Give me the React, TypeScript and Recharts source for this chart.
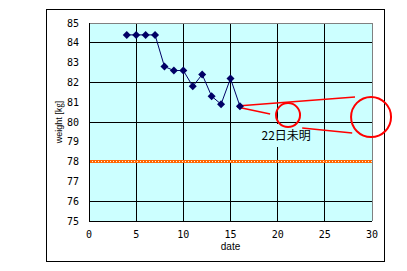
import { LineChart, Line, XAxis, YAxis, CartesianGrid, ReferenceLine, ReferenceDot, ReferenceArea } from "recharts";

const days = [4, 5, 6, 7, 8, 9, 10, 11, 12, 13, 14, 15, 16];
const weights = [84.4, 84.4, 84.4, 84.4, 82.8, 82.6, 82.6, 81.8, 82.4, 81.3, 80.9, 82.2, 80.8];
const xTicks = [0, 5, 10, 15, 20, 25, 30];
const yTicks = [75, 76, 77, 78, 79, 80, 81, 82, 83, 84, 85];
const targetWeight = 78;

// hand-drawn callout (data coords)
const calloutLines = [
  [{ x: 15.7, y: 80.81 }, { x: 28.2, y: 81.26 }],
  [{ x: 15.7, y: 80.76 }, { x: 19.2, y: 80.4 }],
  [{ x: 22.6, y: 79.7 }, { x: 27.9, y: 79.44 }],
];
const calloutCircles = [
  { x: 21.1, y: 80.35, r: 12 },
  { x: 29.9, y: 80.25, r: 20 },
];
const noteBox = { x1: 17.1, x2: 24.7, y1: 78.74, y2: 79.9, text: "22日未明" };

const data = days.map((d, i) => ({ date: d, weight: weights[i] }));

const Diamond = (props: any) => {
  const { cx, cy } = props;
  if (cx == null || cy == null) return null;
  return <polygon points={`${cx},${cy - 4} ${cx + 4},${cy} ${cx},${cy + 4} ${cx - 4},${cy}`} fill="#000066" />;
};

const tickFont = { fontFamily: "DejaVu Sans Mono", fontSize: 10, fill: "#000" };

export default function App() {
  return (
    <div style={{ position: "absolute", left: 0, top: 0, width: 407, height: 271, background: "#fff" }}>
      <div style={{ position: "absolute", left: 46, top: 9, width: 337, height: 251, border: "1px solid #000" }} />
      <LineChart
        width={407}
        height={271}
        data={data}
        margin={{ top: 23, right: 35, bottom: 20, left: 46 }}
        style={{ position: "absolute", left: 0, top: 0 }}
      >
        <CartesianGrid
          fill="#ccffff"
          stroke="#000"
          strokeOpacity={1}
          shapeRendering="crispEdges"
          horizontalValues={yTicks.filter((t) => t !== 85)}
          verticalValues={xTicks.filter((t) => t !== 30)}
        />
        <XAxis
          dataKey="date"
          type="number"
          domain={[0, 30]}
          ticks={xTicks}
          tickLine={false}
          tickSize={0}
          tickMargin={10}
          height={30}
          axisLine={{ stroke: "#000", shapeRendering: "crispEdges" }}
          tick={tickFont}
          label={{ value: "date", position: "insideBottom", offset: 1, style: { fontFamily: "Liberation Sans", fontSize: 10, fill: "#000" } }}
        />
        <YAxis
          type="number"
          domain={[75, 85]}
          ticks={yTicks}
          tickLine={false}
          tickSize={0}
          tickMargin={10}
          width={43}
          axisLine={{ stroke: "#000", shapeRendering: "crispEdges" }}
          tick={tickFont}
          label={{ value: "weight [㎏]", angle: -90, position: "insideLeft", offset: 13, style: { fontFamily: "Liberation Sans, Noto Sans CJK JP", fontSize: 9, fill: "#000", textAnchor: "middle" } }}
        />
        <ReferenceLine y={85} stroke="#808080" shapeRendering="crispEdges" />
        <ReferenceLine x={30} stroke="#808080" shapeRendering="crispEdges" />
        <ReferenceLine y={targetWeight} stroke="#ff6600" strokeWidth={3} />
        <ReferenceLine y={targetWeight} stroke="#ffffff" strokeWidth={1} strokeDasharray="1 2" />
        <ReferenceArea
          x1={noteBox.x1}
          x2={noteBox.x2}
          y1={noteBox.y1}
          y2={noteBox.y2}
          fill="#ccffff"
          fillOpacity={1}
          stroke="none"
          label={{ value: noteBox.text, position: "center", style: { fontFamily: "Noto Sans CJK JP", fontSize: 12, fill: "#000" } }}
        />
        {calloutLines.map((seg, i) => (
          <ReferenceLine key={i} segment={seg} stroke="#ff0000" strokeWidth={1.5} />
        ))}
        {calloutCircles.map((c, i) => (
          <ReferenceDot key={i} x={c.x} y={c.y} r={c.r} fill="none" stroke="#ff0000" strokeWidth={2} />
        ))}
        <Line
          dataKey="weight"
          stroke="#000066"
          strokeWidth={1}
          dot={<Diamond />}
          activeDot={false}
          isAnimationActive={false}
        />
      </LineChart>
    </div>
  );
}
